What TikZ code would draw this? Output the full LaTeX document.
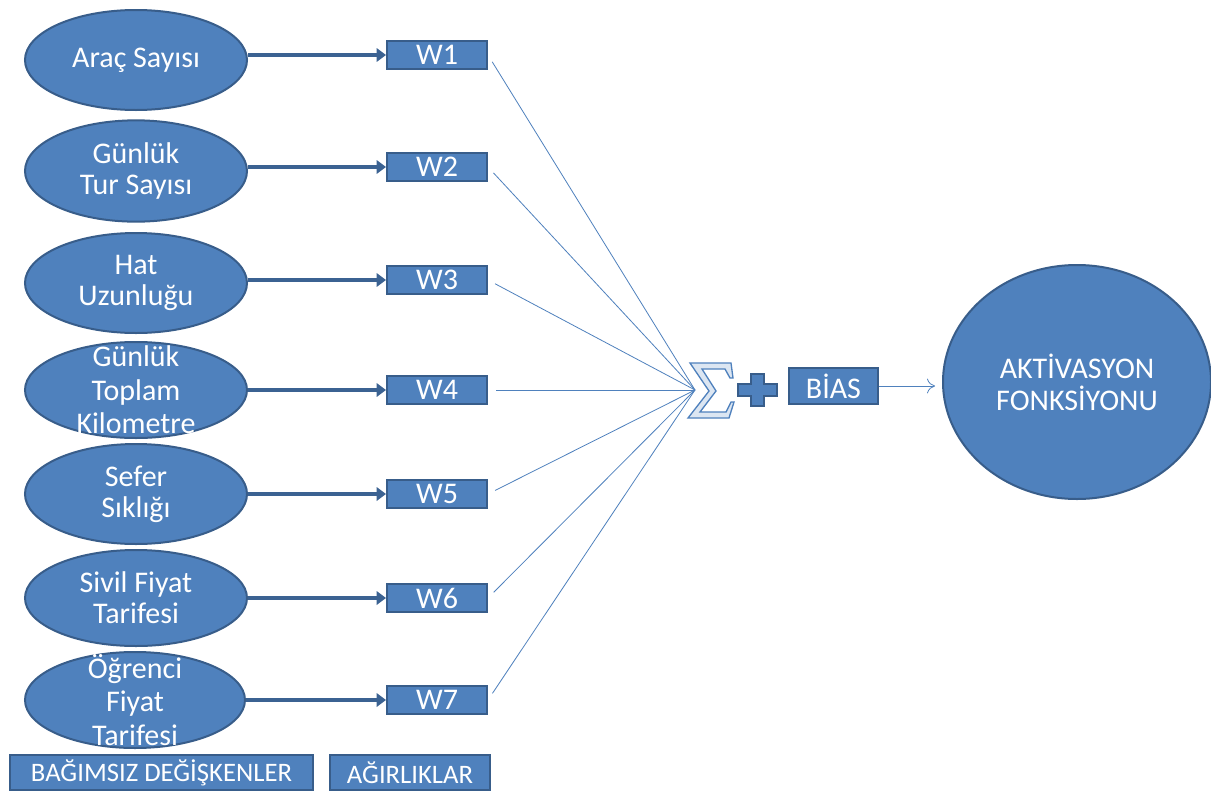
\documentclass[tikz,border=0pt]{standalone}
\usepackage{fontspec}
\setmainfont{Carlito}
\usetikzlibrary{shapes.geometric,arrows.meta}
\definecolor{nblue}{HTML}{4F81BD}
\definecolor{nedge}{HTML}{385D8A}
\definecolor{nlight}{HTML}{DCE6F2}
\tikzset{
  ell/.style={ellipse,draw=nedge,line width=1.5pt,fill=nblue,inner sep=0pt},
  txt/.style={text=white,align=center,font=\fontsize{22.5}{23}\selectfont,inner sep=0pt},
  wbox/.style={rectangle,draw=nedge,line width=1.5pt,fill=nblue,text=white,
    minimum width=75pt,minimum height=21pt,inner sep=0pt,font=\fontsize{22.5}{24}\selectfont},
  lbox/.style={wbox,font=\fontsize{20}{22}\selectfont},
  thick arrow/.style={draw=nedge!85!nblue,line width=3.5pt,-{Triangle[length=7pt,width=10pt]}},
  thin line/.style={draw=nblue,line width=0.6pt},
}
\begin{document}
\begin{tikzpicture}[x=0.75pt,y=-0.75pt]
\fill[white] (0,0) rectangle (1211,793);
\useasboundingbox (0,0) rectangle (1211,793);
% ellipses
\node[ell,minimum width=166.5pt,minimum height=75pt] (e1) at (136,60) {};
\node[ell,minimum width=166.5pt,minimum height=76pt] (e2) at (136,171) {};
\node[ell,minimum width=166.5pt,minimum height=75pt] (e3) at (136,283) {};
\node[ell,minimum width=166.5pt,minimum height=72pt] (e4) at (136,390) {};
\node[ell,minimum width=166.5pt,minimum height=75pt] (e5) at (136,494) {};
\node[ell,minimum width=166.5pt,minimum height=72pt] (e6) at (136,598) {};
\node[ell,minimum width=165pt,minimum height=72pt] (e7) at (135,700) {};
\node[txt] (t1) at (e1) {Araç Sayısı};
\node[txt] (t2) at (e2) {Günlük\\Tur Sayısı};
\node[txt] (t3) at (e3) {Hat\\Uzunluğu};
\node[txt,font=\fontsize{22.5}{25}\selectfont] (t4) at (e4) {Günlük\\Toplam\\Kilometre};
\node[txt] (t5) at (e5) {Sefer\\Sıklığı};
\node[txt] (t6) at (e6) {Sivil Fiyat\\Tarifesi};
\node[txt,font=\fontsize{22.5}{25}\selectfont] (t7) at (e7) {Öğrenci\\Fiyat\\Tarifesi};
% weights
\node[wbox] (w1) at (437,55) {W1};
\node[wbox] (w2) at (437,167) {W2};
\node[wbox] (w3) at (437,280) {W3};
\node[wbox] (w4) at (437,390) {W4};
\node[wbox] (w5) at (437,494) {W5};
\node[wbox] (w6) at (437,598) {W6};
\node[wbox] (w7) at (437,700) {W7};
\foreach \i in {1,...,7}{
  \draw[thick arrow] (w\i.west -| e\i.east) -- (w\i.west);
}
% sigma
\coordinate (sig) at (695,390);
\foreach \i in {1,...,7}{
  \draw[thin line,shorten <=6pt] (w\i.east) -- (sig);
}
\path[fill=nlight,draw=nblue,line width=1pt]
  (690,363) -- (731,363) -- (733,378) -- (730,378) -- (725,369) -- (702,369)
  -- (716,391) -- (700,412) -- (726,412) -- (731,402) -- (734,402) -- (729,418)
  -- (688,418) -- (709,391) -- cycle;
% plus
\path[fill=nblue,draw=nedge,line width=1.2pt]
  (751,374) -- (764,374) -- (764,384) -- (777,384) -- (777,396) -- (764,396)
  -- (764,406) -- (751,406) -- (751,396) -- (738,396) -- (738,384) -- (751,384) -- cycle;
% bias
\node[wbox,minimum width=66.75pt,minimum height=27pt] (bias) at (833.5,386) {BİAS};
% activation
\node[ell,minimum width=201pt,minimum height=175.5pt] (act) at (1077,382) {};
\node[txt,font=\fontsize{22.5}{24}\selectfont] (tact) at (1077,382) {AKTİVASYON\\FONKSİYONU};
\coordinate (acttip) at (935,386);
\draw[thin line,-{To[length=6pt,width=11pt]}] (bias.east) -- (acttip);
% bottom labels
\node[lbox,minimum width=227pt,minimum height=26pt] (lb1) at (161.5,772.5) {BAĞIMSIZ DEĞİŞKENLER};
\node[lbox,minimum width=120pt,minimum height=26pt] (lb2) at (410,772.5) {AĞIRLIKLAR};
\end{tikzpicture}
\end{document}
